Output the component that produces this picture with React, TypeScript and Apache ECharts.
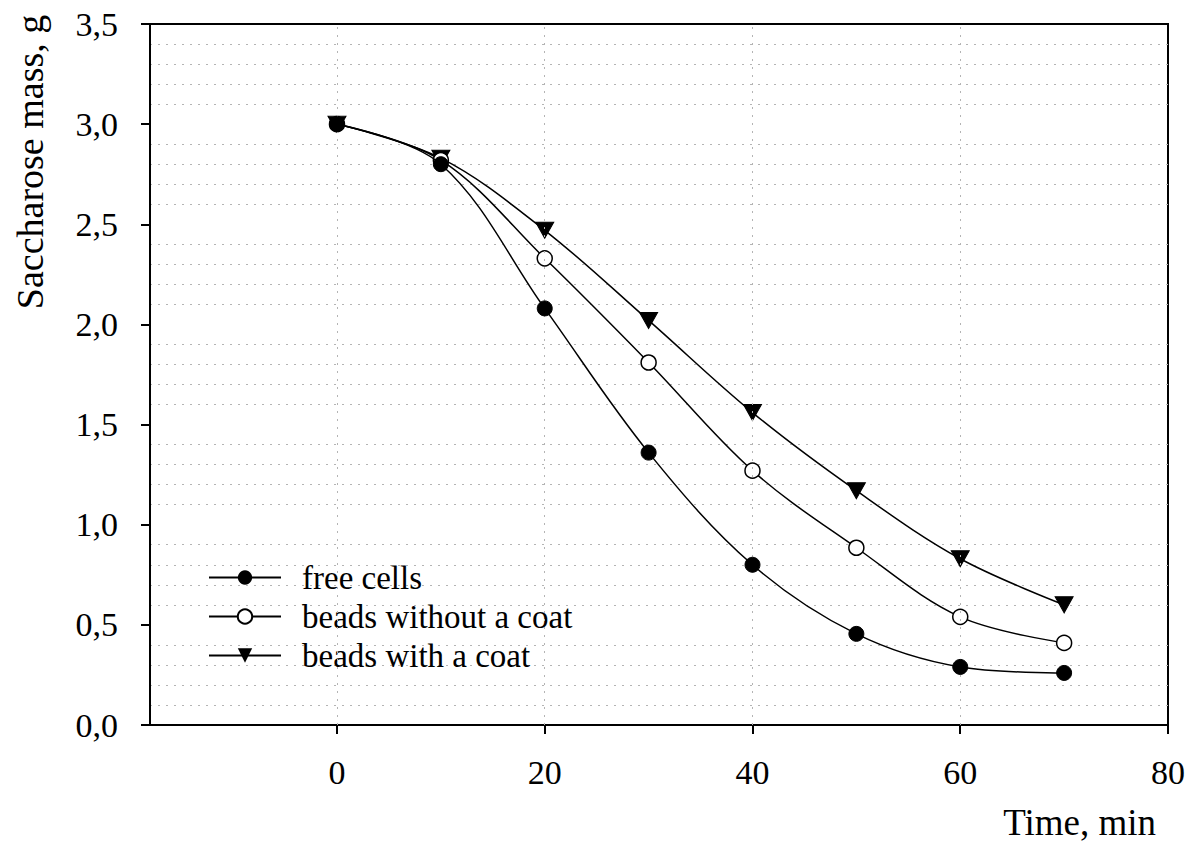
import React, { useEffect, useRef } from "react";
import * as echarts from "echarts";

const timeMin = [0, 10, 20, 30, 40, 50, 60, 70];
const freeCells = [3.0, 2.8, 2.08, 1.36, 0.8, 0.455, 0.29, 0.26];
const beadsWithoutCoat = [3.0, 2.82, 2.33, 1.81, 1.27, 0.885, 0.54, 0.41];
const beadsWithCoat = [3.0, 2.83, 2.47, 2.02, 1.56, 1.17, 0.83, 0.6];
const xTickValues = [0, 20, 40, 60, 80];
const xGridValues = [0, 20, 40, 60];

const FONT = "'Liberation Serif', 'Times New Roman', serif";

export default function App() {
  const ref = useRef<HTMLDivElement>(null);
  useEffect(() => {
    document.body.style.margin = "0";
    if (!ref.current) return;
    const chart = echarts.init(ref.current, null, { renderer: "svg" });
    const pair = (ys: number[]) => timeMin.map((t, i) => [t, ys[i]]);
    const baseLine = { color: "#000", width: 1.5 };
    chart.setOption({
      animation: false,
      backgroundColor: "#fff",
      grid: {
        left: 150,
        top: 24,
        right: 28,
        bottom: 119,
        show: true,
        borderColor: "#000",
        borderWidth: 2,
        backgroundColor: "transparent",
      },
      legend: {
        orient: "vertical",
        left: 203,
        top: 556,
        itemWidth: 72,
        itemHeight: 18,
        itemGap: 6,
        textStyle: { fontFamily: FONT, fontSize: 33, color: "#000", padding: [0, 0, 0, 16] },
        data: ["free cells", "beads without a coat", "beads with a coat"],
      },
      xAxis: {
        type: "value",
        min: -18,
        max: 80,
        axisLine: { show: true, onZero: false, lineStyle: { color: "#000", width: 2 } },
        axisTick: { show: true, customValues: xTickValues, length: 9, lineStyle: { color: "#000", width: 2 } },
        axisLabel: {
          customValues: xTickValues,
          margin: 30,
          fontFamily: FONT,
          fontSize: 34,
          color: "#000",
        },
        splitLine: { show: false },
      },
      yAxis: {
        type: "value",
        min: 0,
        max: 3.5,
        interval: 0.5,
        axisLine: { show: true, onZero: false, lineStyle: { color: "#000", width: 2 } },
        axisTick: { show: true, length: 9, lineStyle: { color: "#000", width: 2 } },
        axisLabel: {
          margin: 32,
          fontFamily: FONT,
          fontSize: 34,
          color: "#000",
          formatter: (v: number) => v.toFixed(1).replace(".", ","),
        },
        splitLine: { show: false },
        minorTick: { show: false, splitNumber: 5 },
        minorSplitLine: { show: true, lineStyle: { color: "#b4b4b4", type: [2, 6], width: 1 } },
      },
      graphic: [
        {
          type: "text",
          x: 30,
          y: 162,
          rotation: Math.PI / 2,
          style: {
            text: "Saccharose mass, g",
            fontFamily: FONT,
            fontSize: 38,
            fill: "#000",
            align: "center",
            verticalAlign: "middle",
          },
        },
        {
          type: "text",
          right: 40,
          top: 804,
          style: {
            text: "Time, min",
            fontFamily: FONT,
            fontSize: 37,
            fill: "#000",
          },
        },
      ],
      series: [
        {
          name: "grid",
          type: "line",
          data: [],
          silent: true,
          markLine: {
            silent: true,
            symbol: "none",
            label: { show: false },
            lineStyle: { color: "#b4b4b4", type: [2, 6], width: 1 },
            data: xGridValues.map((v) => ({ xAxis: v })),
          },
        },
        {
          name: "beads with a coat",
          type: "line",
          smooth: 0.35,
          data: pair(beadsWithCoat),
          symbol: "triangle",
          symbolRotate: 180,
          symbolSize: [18, 16],
          lineStyle: baseLine,
          itemStyle: { color: "#000", borderColor: "#000" },
          z: 3,
        },
        {
          name: "beads without a coat",
          type: "line",
          smooth: 0.35,
          data: pair(beadsWithoutCoat),
          symbol: "circle",
          symbolSize: 15,
          showAllSymbol: true,
          lineStyle: baseLine,
          itemStyle: { color: "#fff", borderColor: "#000", borderWidth: 1.5 },
          z: 4,
        },
        {
          name: "free cells",
          type: "line",
          smooth: 0.35,
          data: pair(freeCells),
          symbol: "circle",
          symbolSize: 15,
          lineStyle: baseLine,
          itemStyle: { color: "#000", borderColor: "#000" },
          z: 5,
        },
      ],
    });
    return () => chart.dispose();
  }, []);
  return <div ref={ref} style={{ width: 1196, height: 844 }} />;
}
